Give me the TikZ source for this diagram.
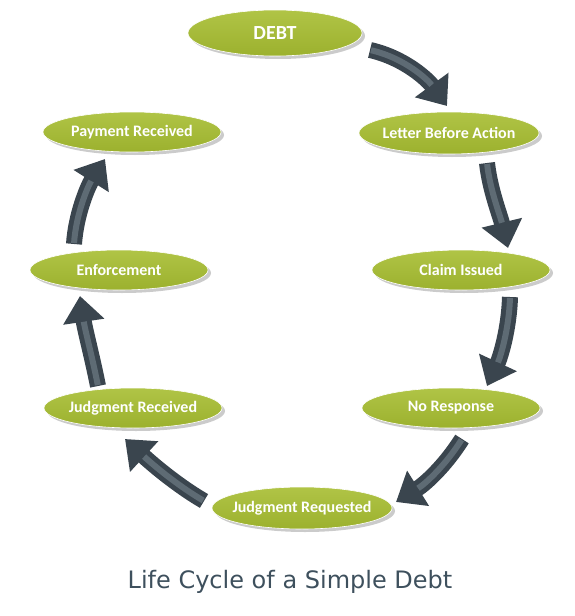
\documentclass[tikz,border=0pt]{standalone}
\usepackage{fontspec}
\setmainfont{Carlito}
\newfontfamily\titlefont{DejaVu Sans}
\usetikzlibrary{arrows.meta,shapes.geometric,shadows}
\definecolor{greentop}{HTML}{B0C446}
\definecolor{greenbot}{HTML}{9CB12E}
\definecolor{arrowdark}{HTML}{3A454E}
\definecolor{arrowlight}{HTML}{5E6B74}
\definecolor{titlec}{HTML}{3E505D}
\tikzset{
  stage/.style={ellipse, inner xsep=-30pt, inner ysep=0pt, minimum width=178pt, minimum height=40pt,
    top color=greentop, bottom color=greenbot, draw=white, line width=0.6pt,
    text=white, font=\bfseries\fontsize{16}{19}\selectfont,
    drop shadow={shadow xshift=3pt, shadow yshift=-3pt, fill=black!45, opacity=0.45}},
  bigarrow/.style={line width=16pt, draw=arrowdark,
    -{Triangle[length=26pt,width=40pt,fill=arrowdark]}},
  stripe/.style={line width=6pt, draw=arrowlight, shorten >=26pt, shorten <=1pt},
}
\begin{document}
\begin{tikzpicture}[x=1pt,y=-1pt]
\useasboundingbox (0,0) rectangle (575,616);
\node[stage, minimum width=174pt, minimum height=46pt, font=\bfseries\fontsize{20}{23}\selectfont] (debt) at (275,33) {DEBT};
\node[stage, minimum width=180pt, minimum height=42pt] (lba) at (449,133) {Letter Before Action};
\node[stage] (pay) at (132,132) {Payment Received};
\node[stage] (enf) at (119,270) {Enforcement};
\node[stage] (claim) at (461,270) {Claim Issued};
\node[stage] (jrec) at (133,408) {Judgment Received};
\node[stage] (nores) at (451,408) {No Response};
\node[stage, minimum width=180pt, minimum height=42pt] (jreq) at (302,508) {Judgment Requested};
\node[font=\titlefont\fontsize{24}{27}\selectfont, text=titlec] (title) at (290,582) {Life Cycle of a Simple Debt};

% arrow end points
\coordinate (a1s) at (370,50);  \coordinate (a1e) at (447,106);
\coordinate (a2s) at (487,163); \coordinate (a2e) at (508,248);
\coordinate (a3s) at (510,297); \coordinate (a3e) at (487,386);
\coordinate (a4s) at (462,439); \coordinate (a4e) at (396,502);
\coordinate (a5s) at (204,501); \coordinate (a5e) at (125,439);
\coordinate (a6s) at (98,386);  \coordinate (a6e) at (80,296);
\coordinate (a7s) at (74,244);  \coordinate (a7e) at (105,159);

\foreach \s/\e/\ca/\cb in {a1s/a1e/{(405,58)}/{(428,80)},
                           a2s/a2e/{(490,190)}/{(500,215)},
                           a3s/a3e/{(509,330)}/{(500,358)},
                           a4s/a4e/{(445,466)}/{(425,484)},
                           a5s/a5e/{(175,484)}/{(150,462)},
                           a6s/a6e/{(92,356)}/{(85,330)},
                           a7s/a7e/{(76,214)}/{(88,186)}}{
  \draw[bigarrow] (\s) .. controls \ca and \cb .. (\e);
  \draw[stripe] (\s) .. controls \ca and \cb .. (\e);
}
\end{tikzpicture}
\end{document}
